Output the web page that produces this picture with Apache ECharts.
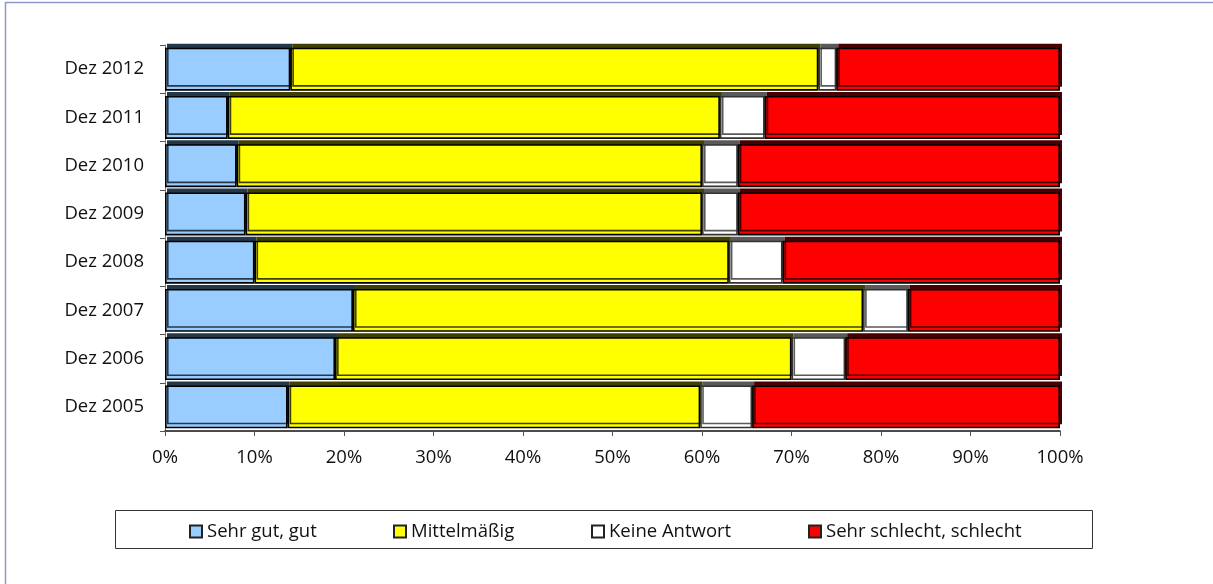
<!DOCTYPE html>
<html>
<head>
<meta charset="utf-8">
<style>
  html, body { margin: 0; padding: 0; background: #fff; }
  #chart { width: 1213px; height: 584px; }
</style>
<script src="https://cdn.jsdelivr.net/npm/echarts@6/dist/echarts.min.js"></script>
</head>
<body>
<div id="chart"></div>
<script>
// Survey years, bottom to top on the category axis
const categories = ['Dez 2005', 'Dez 2006', 'Dez 2007', 'Dez 2008', 'Dez 2009', 'Dez 2010', 'Dez 2011', 'Dez 2012'];

// Shares in percent for each answer group
const sehrGutGut       = [13.7, 19, 21, 10,  9,  8,  7, 14];
const mittelmaessig    = [46.1, 51, 57, 53, 51, 52, 55, 59];
const keineAntwort     = [ 5.8,  6,  5,  6,  4,  4,  5,  2];
const sehrSchlecht     = [34.4, 24, 17, 31, 36, 36, 33, 25];

const seriesNames = ['Sehr gut, gut', 'Mittelmäßig', 'Keine Antwort', 'Sehr schlecht, schlecht'];
const xTickLabels = ['0%', '10%', '20%', '30%', '40%', '50%', '60%', '70%', '80%', '90%', '100%'];

const FONT = '"Open Sans", "Noto Sans", sans-serif';
const TEXT = '#111';
const FONT_SIZE = 18.5;

const fills   = ['#99ccff', '#ffff00', '#ffffff', '#ff0000'];
const depths  = ['#24384c', '#404000', '#5a5a5a', '#4a0000'];
const borders = ['#000', '#000', '#333', '#000'];
const values  = [sehrGutGut, mittelmaessig, keineAntwort, sehrSchlecht];

const series = seriesNames.map((name, i) => ({
  name,
  type: 'bar',
  stack: 'total',
  barWidth: 43,
  data: values[i],
  itemStyle: {
    color: fills[i],
    borderColor: borders[i],
    borderWidth: 1.6,
    shadowColor: depths[i],
    shadowBlur: 0,
    shadowOffsetX: 2,
    shadowOffsetY: -4
  },
  emphasis: { disabled: true },
  silent: true
}));

const legendLefts = [189, 393, 591, 808];
const legends = seriesNames.map((name, i) => ({
  data: [name],
  left: legendLefts[i],
  top: 522,
  padding: 0,
  itemWidth: 12,
  itemHeight: 12,
  itemGap: 0,
  icon: 'rect',
  selectedMode: false,
  itemStyle: { borderColor: '#222', borderWidth: 2 },
  textStyle: { fontFamily: FONT, fontSize: FONT_SIZE, color: TEXT }
}));

const chart = echarts.init(document.getElementById('chart'), null, { renderer: 'canvas' });
chart.setOption({
  animation: false,
  backgroundColor: '#fff',
  grid: { left: 165, right: 153, top: 45, bottom: 153, containLabel: false },
  xAxis: {
    type: 'value',
    min: 0,
    max: 100,
    interval: 10,
    axisLine: { show: true, lineStyle: { color: '#111', width: 1.5 } },
    axisTick: { show: true, length: 5, lineStyle: { color: '#555' } },
    splitLine: { show: false },
    axisLabel: {
      margin: 17,
      fontFamily: FONT,
      fontSize: FONT_SIZE,
      color: TEXT,
      formatter: v => xTickLabels[Math.round(v / 10)]
    }
  },
  yAxis: {
    type: 'category',
    data: categories,
    axisLine: { show: true, lineStyle: { color: '#777', width: 1 } },
    axisTick: { show: true, length: 5, alignWithLabel: false, lineStyle: { color: '#555' } },
    axisLabel: { margin: 21, fontFamily: FONT, fontSize: FONT_SIZE, color: TEXT }
  },
  legend: legends,
  graphic: [
    {
      type: 'rect',
      silent: true,
      shape: { x: 5.5, y: 2.5, width: 1400, height: 800 },
      style: { fill: 'none', stroke: '#8e99c8', lineWidth: 1.5 },
      z: -10
    },
    {
      type: 'rect',
      silent: true,
      shape: { x: 115.5, y: 510.5, width: 977, height: 38 },
      style: { fill: 'none', stroke: '#333', lineWidth: 1 },
      z: -5
    }
  ],
  series
});
</script>
</body>
</html>
